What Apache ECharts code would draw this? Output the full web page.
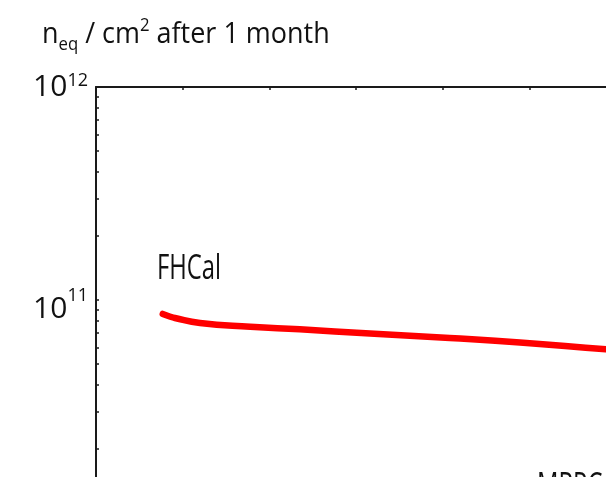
<!DOCTYPE html>
<html>
<head>
<meta charset="utf-8">
<script src="https://cdn.jsdelivr.net/npm/echarts@6/dist/echarts.min.js"></script>
<style>
  html, body { margin: 0; padding: 0; background: #fff; overflow: hidden; }
  #chart { position: absolute; left: 0; top: 0; width: 900px; height: 700px; }
</style>
</head>
<body>
<div id="chart"></div>
<script>
// Position along the detector (axis units) and equivalent neutron fluence per cm^2
const positions = [0.77, 0.85, 0.91, 1.2, 1.78, 2.35, 3.16, 4.08, 4.89, 5.88, 6.6];
const fluence = [8.6e10, 8.37e10, 8.23e10, 7.8e10, 7.49e10, 7.28e10, 6.96e10, 6.63e10, 6.32e10, 5.87e10, 5.6e10];

// Log-axis range and tick marks (1..9 per decade)
const yMin = 1e10;
const yMax = 1e12;
const yTicks = [];
for (let d = 10; d <= 11; d++) {
  for (let k = 1; k <= 9; k++) yTicks.push(k * Math.pow(10, d));
}
yTicks.push(1e12);
const yLabelValues = [1e10, 1e11, 1e12];

const titleText = '{m|n}{sub|eq}{m| / cm}{sup|2}{m| after 1 month}';
const detectorLabels = ['FHCal', 'MRPC'];

const textFont = "'Open Sans', sans-serif";

const chart = echarts.init(document.getElementById('chart'), null, { renderer: 'canvas' });

chart.setOption({
  animation: false,
  backgroundColor: '#ffffff',
  grid: { left: 96, top: 87, width: 693.6, height: 426, containLabel: false },
  xAxis: {
    type: 'value',
    position: 'top',
    min: 0,
    max: 8,
    interval: 1,
    axisLine: { show: true, lineStyle: { color: '#1a1a1a', width: 2 } },
    axisTick: { show: true, inside: true, length: 3, lineStyle: { color: '#1a1a1a', width: 1.5 } },
    axisLabel: { show: false },
    splitLine: { show: false }
  },
  yAxis: {
    type: 'log',
    logBase: 10,
    min: yMin,
    max: yMax,
    axisLine: { show: true, lineStyle: { color: '#1a1a1a', width: 2 } },
    axisTick: { show: true, inside: true, length: 3, customValues: yTicks, lineStyle: { color: '#1a1a1a', width: 1.5 } },
    axisLabel: {
      show: true,
      margin: 8,
      customValues: yLabelValues,
      formatter: function (v) {
        const p = Math.round(Math.log10(v));
        // the top label sits centred on its tick, the others slightly below
        return p === 12 ? '{bt|10}{st|' + p + '}' : '{b|10}{s|' + p + '}';
      },
      rich: {
        b: { fontFamily: textFont, fontSize: 30, color: '#111', padding: [18, 0, 0, 0] },
        s: { fontFamily: textFont, fontSize: 18, color: '#111', padding: [0, 0, 8, 0] },
        bt: { fontFamily: textFont, fontSize: 30, color: '#111', padding: [0, 0, 0, 0] },
        st: { fontFamily: textFont, fontSize: 18, color: '#111', padding: [0, 0, 12, 0] }
      }
    },
    splitLine: { show: false },
    minorTick: { show: false }
  },
  series: [{
    type: 'line',
    data: positions.map((x, i) => [x, fluence[i]]),
    smooth: true,
    showSymbol: false,
    lineStyle: { color: '#ff0000', width: 6.5, cap: 'round', join: 'round' }
  }],
  graphic: [
    {
      type: 'text', left: 42, top: 17, scaleX: 0.93,
      style: {
        text: titleText,
        fill: '#111',
        rich: {
          m: { fontFamily: textFont, fontSize: 29, fill: '#111' },
          sub: { fontFamily: textFont, fontSize: 18, fill: '#111', padding: [20, 0, 0, 0] },
          sup: { fontFamily: textFont, fontSize: 18, fill: '#111', padding: [0, 0, 17, 0] }
        }
      }
    },
    {
      type: 'text', left: 157, top: 252, scaleX: 0.7,
      style: { text: detectorLabels[0], fontFamily: textFont, fontSize: 34, fill: '#111' }
    },
    {
      type: 'text', left: 537, top: 470, scaleX: 0.7,
      style: { text: detectorLabels[1], fontFamily: textFont, fontSize: 34, fill: '#111' }
    }
  ]
});
</script>
</body>
</html>
